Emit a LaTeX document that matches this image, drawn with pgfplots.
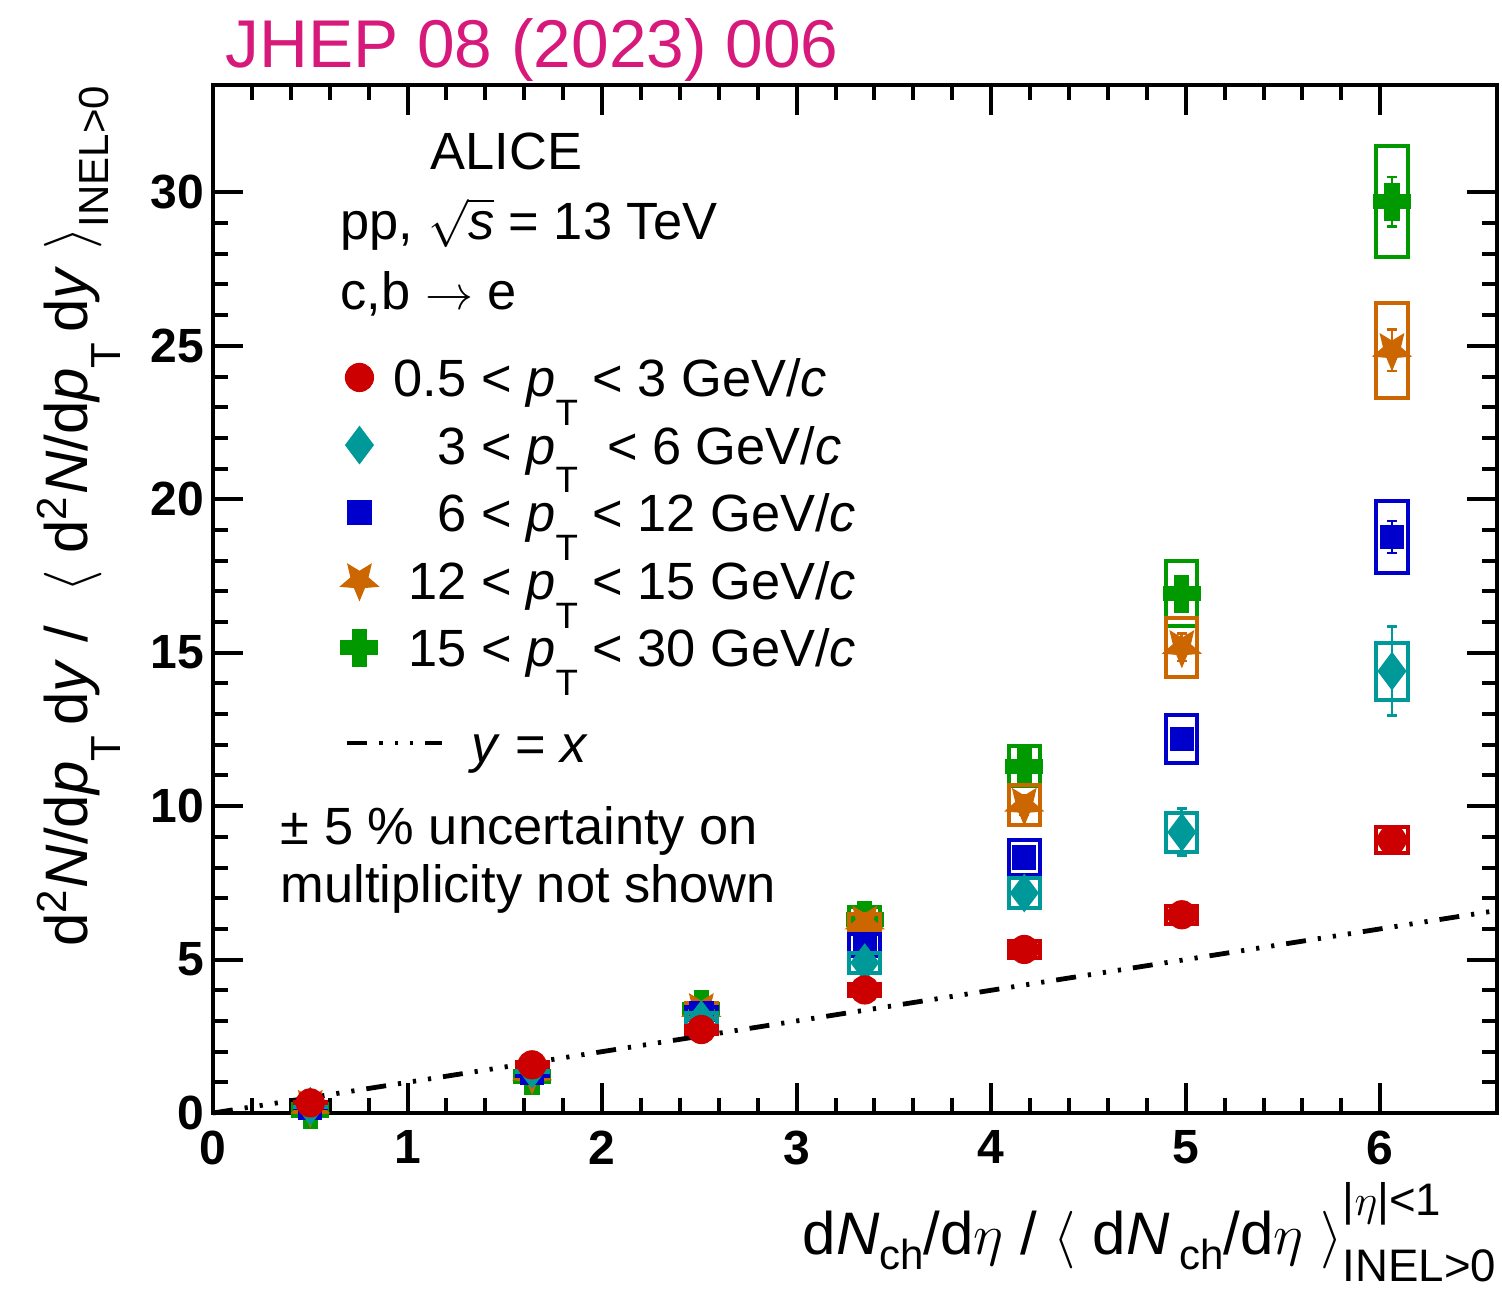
\documentclass[border=0pt]{standalone}
\usepackage{fontspec}
\setmainfont{Liberation Sans}
\usepackage{graphicx}
\usepackage{pgfplots}
\pgfplotsset{compat=1.18}
\usepackage{pgfplotstable}

\definecolor{cred}{RGB}{204,0,0}
\definecolor{cteal}{RGB}{0,153,153}
\definecolor{cblue}{RGB}{0,0,204}
\definecolor{corange}{RGB}{204,102,0}
\definecolor{cgreen}{RGB}{0,153,0}
\definecolor{cjhep}{RGB}{214,25,122}

% lowered, reduced subscript in the ROOT manner
\newcommand{\lsub}[2][-0.55em]{\raisebox{#1}{\scalebox{0.7}{#2}}}
\newcommand{\pT}{\textit{p}\lsub{T}}

% filled five-pointed star, one point down
\pgfdeclareplotmark{istar}{%
  \pgfpathmoveto{\pgfpointpolar{-90}{\pgfplotmarksize}}%
  \pgfpathlineto{\pgfpointpolar{-54}{0.45\pgfplotmarksize}}%
  \pgfpathlineto{\pgfpointpolar{-18}{\pgfplotmarksize}}%
  \pgfpathlineto{\pgfpointpolar{18}{0.45\pgfplotmarksize}}%
  \pgfpathlineto{\pgfpointpolar{54}{\pgfplotmarksize}}%
  \pgfpathlineto{\pgfpointpolar{90}{0.45\pgfplotmarksize}}%
  \pgfpathlineto{\pgfpointpolar{126}{\pgfplotmarksize}}%
  \pgfpathlineto{\pgfpointpolar{162}{0.45\pgfplotmarksize}}%
  \pgfpathlineto{\pgfpointpolar{198}{\pgfplotmarksize}}%
  \pgfpathlineto{\pgfpointpolar{234}{0.45\pgfplotmarksize}}%
  \pgfpathclose
  \pgfusepathqfillstroke
}
% thick filled cross
\pgfdeclareplotmark{fatplus}{%
  \pgfpathmoveto{\pgfpoint{-0.38\pgfplotmarksize}{\pgfplotmarksize}}%
  \pgfpathlineto{\pgfpoint{0.38\pgfplotmarksize}{\pgfplotmarksize}}%
  \pgfpathlineto{\pgfpoint{0.38\pgfplotmarksize}{0.38\pgfplotmarksize}}%
  \pgfpathlineto{\pgfpoint{\pgfplotmarksize}{0.38\pgfplotmarksize}}%
  \pgfpathlineto{\pgfpoint{\pgfplotmarksize}{-0.38\pgfplotmarksize}}%
  \pgfpathlineto{\pgfpoint{0.38\pgfplotmarksize}{-0.38\pgfplotmarksize}}%
  \pgfpathlineto{\pgfpoint{0.38\pgfplotmarksize}{-\pgfplotmarksize}}%
  \pgfpathlineto{\pgfpoint{-0.38\pgfplotmarksize}{-\pgfplotmarksize}}%
  \pgfpathlineto{\pgfpoint{-0.38\pgfplotmarksize}{-0.38\pgfplotmarksize}}%
  \pgfpathlineto{\pgfpoint{-\pgfplotmarksize}{-0.38\pgfplotmarksize}}%
  \pgfpathlineto{\pgfpoint{-\pgfplotmarksize}{0.38\pgfplotmarksize}}%
  \pgfpathlineto{\pgfpoint{-0.38\pgfplotmarksize}{0.38\pgfplotmarksize}}%
  \pgfpathclose
  \pgfusepathqfillstroke
}

% columns: multiplicity, yield ratio, statistical and systematic uncertainty
\pgfplotstableread{
x    y     stat  sys
0.50 0.33  0.03  0.02
1.64 1.57  0.04  0.08
2.51 2.72  0.05  0.13
3.35 4.01  0.06  0.19
4.17 5.33  0.08  0.27
4.98 6.46  0.10  0.30
6.06 8.90  0.15  0.43
}\tred
\pgfplotstableread{
x    y     stat  sys
0.50 0.22  0.02  0.02
1.64 1.42  0.05  0.09
2.51 3.05  0.08  0.20
3.35 4.90  0.15  0.33
4.17 7.17  0.35  0.49
4.98 9.15  0.77  0.64
6.06 14.40 1.45  0.93
}\tteal
\pgfplotstableread{
x    y     stat  sys
0.50 0.18  0.02  0.02
1.64 1.30  0.04  0.09
2.51 3.25  0.07  0.21
3.35 5.48  0.12  0.36
4.17 8.33  0.25  0.57
4.98 12.19 0.35  0.78
6.06 18.77 0.52  1.16
}\tblue
\pgfplotstableread{
x    y     stat  sys
0.50 0.20  0.03  0.02
1.64 1.28  0.05  0.09
2.51 3.35  0.08  0.22
3.35 6.20  0.18  0.30
4.17 10.04 0.30  0.65
4.98 15.18 0.45  0.96
6.06 24.86 0.68  1.55
}\torange
\pgfplotstableread{
x    y     stat  sys
0.50 0.10  0.03  0.02
1.64 1.20  0.06  0.08
2.51 3.38  0.10  0.21
3.35 6.30  0.20  0.40
4.17 11.30 0.30  0.65
4.98 16.92 0.40  1.06
6.06 29.70 0.80  1.80
}\tgreen

\pgfplotsset{
  sred/.style={only marks, mark=*, mark size=3.5pt, color=cred,
    mark options={solid, fill=cred, draw=cred, line width=0.3pt}},
  steal/.style={only marks, mark=diamond*, mark size=4.6pt, color=cteal,
    mark options={solid, fill=cteal, draw=cteal, line width=0.3pt}},
  sblue/.style={only marks, mark=square*, mark size=2.9pt, color=cblue,
    mark options={solid, fill=cblue, draw=cblue, line width=0.3pt}},
  sorange/.style={only marks, mark=istar, mark size=4.9pt, color=corange,
    mark options={solid, fill=corange, draw=corange, line width=0.3pt}},
  sgreen/.style={only marks, mark=fatplus, mark size=4.6pt, color=cgreen,
    mark options={solid, fill=cgreen, draw=cgreen, line width=0.3pt}},
  yxline/.style={black, line width=1.2pt,
    dash pattern=on 5pt off 3pt on 0.8pt off 3pt on 0.8pt off 3pt on 0.8pt off 3pt},
  % boxes for systematic and bars for statistical uncertainties
  sysdata/.style={scatter, forget plot,
    scatter/@pre marker code/.code={%
      \draw[line width=1pt, draw=#1, solid]
        (axis direction cs:-0.08,-\sy) rectangle (axis direction cs:0.08,\sy);},
    scatter/@post marker code/.code={},
    visualization depends on={\thisrow{sys}\as\sy},
    error bars/.cd, y dir=both, y explicit,
    error bar style={line width=0.7pt, draw=#1, solid},
    error mark options={rotate=90, line width=0.7pt, draw=#1, mark size=1.2pt}},
  markleg/.style={legend image code/.code={%
    \path (-3pt,0pt) (5pt,0pt);
    \draw[##1] plot coordinates {(0pt,0pt)};}},
  lineleg/.style={legend image code/.code={%
    \path (-3pt,0pt) (5pt,0pt);
    \draw[overlay, ##1] (-3pt,0pt) -- (20.75pt,0pt);}},
}

\begin{document}
\begin{tikzpicture}
\begin{axis}[
  name=ax,
  scale only axis, width=321pt, height=257pt,
  xmin=0, xmax=6.6, ymin=0, ymax=33.5,
  xtick={0,1,...,6}, ytick={0,5,...,30},
  minor x tick num=4, minor y tick num=4,
  tick align=inside, xtick pos=both, ytick pos=both,
  major tick length=7.5pt, minor tick length=3.75pt,
  axis line style={line width=1pt},
  every tick/.style={black, line width=1pt},
  tick label style={font=\bfseries\fontsize{12}{14}\selectfont},
  /pgf/number format/assume math mode=true,
  xticklabel style={inner sep=0pt, yshift=-4.25pt},
  yticklabel style={inner sep=0pt, xshift=-2pt},
  clip=false,
  xlabel={d\textit{N}\lsub[-0.25em]{ch}/d$\eta$ / $\bigl\langle$ d\textit{N}\,\lsub[-0.25em]{ch}/d$\eta$ $\bigr\rangle$\rlap{\raisebox{0.66em}{\scalebox{0.76}{|$\eta$|<1}}}\raisebox{-0.44em}{\scalebox{0.76}{INEL>0}}},
  xlabel style={at={(axis description cs:1,-0.1381)}, anchor=base east, inner sep=0pt,
    font=\fontsize{15}{18}\selectfont},
  ylabel={d\textsuperscript{2}\textit{N}/d\pT\,d\textit{y} / \ $\bigl\langle$ d\textsuperscript{2}\textit{N}/d\pT\,d\textit{y} $\bigr\rangle$\lsub[-0.36em]{INEL>0}},
  ylabel style={at={(axis description cs:-0.098,1)}, anchor=base east, inner sep=0pt,
    font=\fontsize{15}{18}\selectfont},
  legend cell align=left,
  legend style={at={(axis cs:0.657,25.07)}, anchor=north west, draw=none, fill=none,
    inner sep=0pt, outer sep=0pt, row sep=0pt,
    font=\fontsize{13.1}{15}\selectfont,
    nodes={inner sep=0pt, text height=13.2pt, text depth=3.7pt},
    /tikz/every odd column/.append style={column sep=3pt}},
]
% data, drawn from the highest bin down so that the red points lie on top
\addplot[sgreen, sysdata=cgreen] table[x=x, y=y, y error=stat] {\tgreen};
\addplot[sorange, sysdata=corange] table[x=x, y=y, y error=stat] {\torange};
\addplot[sblue, sysdata=cblue] table[x=x, y=y, y error=stat] {\tblue};
\addplot[steal, sysdata=cteal] table[x=x, y=y, y error=stat] {\tteal};
\addplot[sred, sysdata=cred] table[x=x, y=y, y error=stat] {\tred};
% reference line y = x
\addplot[yxline, forget plot] coordinates {(0,0) (6.6,6.6)};

% legend
\addlegendimage{sred, markleg}
\addlegendentry{0.5 < \pT\ < 3 GeV/\textit{c}}
\addlegendimage{steal, markleg}
\addlegendentry{\hphantom{0.}3 < \pT\ \ < 6 GeV/\textit{c}}
\addlegendimage{sblue, markleg}
\addlegendentry{\hphantom{0.}6 < \pT\ < 12 GeV/\textit{c}}
\addlegendimage{sorange, markleg}
\addlegendentry{\hphantom{0.5}\llap{12} < \pT\ < 15 GeV/\textit{c}}
\addlegendimage{sgreen, markleg}
\addlegendentry{\hphantom{0.5}\llap{15} < \pT\ < 30 GeV/\textit{c}}
\addlegendimage{empty legend}
\addlegendentry[text height=0pt, text depth=6.9pt]{}
\addlegendimage{yxline, lineleg}
\addlegendentry{\hspace{19.5pt}\textit{y} = \textit{x}}

% annotations
\node[anchor=base west, inner sep=0pt, text=cjhep, font=\fontsize{16.9}{20}\selectfont]
  at (axis cs:0.062,34.07) {JHEP 08 (2023) 006};
\node[anchor=base west, inner sep=0pt, font=\fontsize{13.1}{15}\selectfont]
  at (axis cs:1.115,30.75) {ALICE};
\node[anchor=base west, inner sep=0pt, font=\fontsize{13.1}{15}\selectfont]
  at (axis cs:0.652,28.46) {pp, $\smash{\sqrt{\mbox{\textit{s}}}}$ = 13 TeV};
\node[anchor=base west, inner sep=0pt, font=\fontsize{13.1}{15}\selectfont]
  at (axis cs:0.652,26.18) {c,b $\rightarrow$ e};
\node[anchor=base west, inner sep=0pt, font=\fontsize{13.1}{15}\selectfont]
  at (axis cs:0.344,8.74) {± 5 \% uncertainty on};
\node[anchor=base west, inner sep=0pt, font=\fontsize{13.1}{15}\selectfont]
  at (axis cs:0.344,6.85) {multiplicity not shown};
\end{axis}
\pgfresetboundingbox
\useasboundingbox ([shift={(-53.25pt,-44.5pt)}]ax.south west)
  rectangle ([shift={(1.25pt,21.25pt)}]ax.north east);
\end{tikzpicture}
\end{document}
